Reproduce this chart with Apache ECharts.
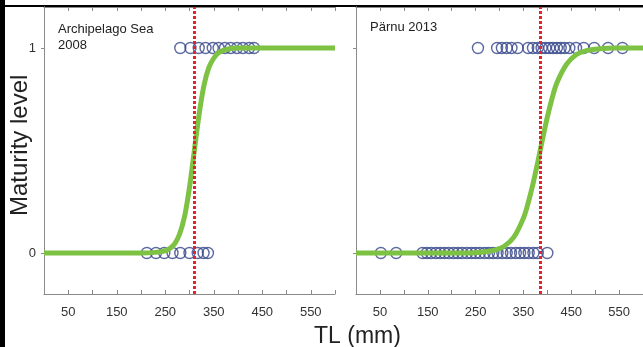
<!DOCTYPE html>
<html>
<head>
<meta charset="utf-8">
<script src="https://cdn.jsdelivr.net/npm/echarts@6/dist/echarts.min.js"></script>
<style>
  html, body { margin: 0; padding: 0; background: #fff; }
  #chart { width: 643px; height: 347px; }
</style>
</head>
<body>
<div id="chart"></div>
<script>
// x tick labels (TL, mm)
const tlLabels = [50, 150, 250, 350, 450, 550];
const tlTicks = [0, 50, 100, 150, 200, 250, 300, 350, 400, 450, 500, 550, 600];
const maturityLabels = [0, 1];

// Archipelago Sea 2008
const archMature = [281, 302, 319, 333, 348, 360, 373, 385, 398, 410, 423, 433];
const archImmature = [212, 231, 248, 265, 281, 300, 317, 329, 338];
const archCurveX = [0, 200, 230, 250, 260, 270, 280, 290, 300, 310, 320, 330, 340, 350, 360, 380, 400, 600];
const archCurveY = [0, 0, 0.003, 0.011, 0.023, 0.047, 0.095, 0.18, 0.32, 0.5, 0.68, 0.82, 0.905, 0.95, 0.977, 0.995, 1, 1];
const archL50 = 310;

// Pärnu 2013
const parnuMature = [255, 295, 305, 315, 325, 338, 360, 370, 380, 388, 396, 404, 412, 420, 428, 436, 446, 460, 476, 498, 527, 557];
const parnuImmature = [52, 84, 139, 148, 157, 167, 176, 185, 194, 204, 213, 222, 232, 241, 250, 259, 269, 278, 287, 296, 306, 315, 324, 334, 343, 352, 361, 371, 380, 400];
const parnuCurveX = [0, 240, 270, 290, 310, 330, 350, 360, 370, 380, 390, 400, 410, 420, 440, 460, 480, 510, 540, 600];
const parnuCurveY = [0, 0, 0.006, 0.014, 0.033, 0.077, 0.17, 0.245, 0.337, 0.444, 0.556, 0.663, 0.755, 0.83, 0.92, 0.967, 0.986, 0.996, 1, 1];
const parnuL50 = 385;

const green = '#7dc242';
const blue = '#34458a';
const red = '#e0262c';
const axisGray = '#8a8a8a';

const chart = echarts.init(document.getElementById('chart'));

function pts(xs, y) { return xs.map(v => [v, y]); }
function curve(xs, ys) { return xs.map((v, i) => [v, ys[i]]); }

function xAxisFor(idx, top) {
  return {
    type: 'value', gridIndex: idx, min: 0, max: 600, interval: 50,
    position: top ? 'top' : 'bottom',
    axisLine: { show: true, onZero: false, lineStyle: { color: axisGray, width: 1 } },
    axisTick: { show: true, inside: true, length: 4, customValues: tlTicks, lineStyle: { color: axisGray } },
    axisLabel: { show: !top, customValues: tlLabels, color: '#333', fontSize: 13, margin: 12, fontFamily: 'Liberation Sans' },
    splitLine: { show: false }
  };
}
function yAxisFor(idx, right) {
  return {
    type: 'value', gridIndex: idx, min: -0.2, max: 1.2,
    position: right ? 'right' : 'left',
    axisLine: { show: true, lineStyle: { color: axisGray, width: 1 } },
    axisTick: { show: !right, inside: false, length: 3, customValues: maturityLabels, lineStyle: { color: axisGray } },
    axisLabel: { show: idx === 0 && !right, customValues: maturityLabels, color: '#333', fontSize: 13, margin: 8, fontFamily: 'Liberation Sans' },
    splitLine: { show: false }
  };
}

function panelSeries(idx, mature, immature, cx, cy, l50) {
  const scatterStyle = {
    type: 'scatter', xAxisIndex: idx * 2, yAxisIndex: idx * 2,
    symbol: 'circle', symbolSize: 11,
    itemStyle: { color: 'rgba(255,255,255,0)', borderColor: blue, borderWidth: 1.4 },
    z: 2, silent: true
  };
  return [
    Object.assign({}, scatterStyle, { data: pts(mature, 1) }),
    Object.assign({}, scatterStyle, { data: pts(immature, 0) }),
    {
      type: 'line', xAxisIndex: idx * 2, yAxisIndex: idx * 2,
      data: curve(cx, cy), smooth: 0.3,
      showSymbol: false, lineStyle: { color: green, width: 5 }, z: 3, silent: true
    },
    {
      type: 'line', xAxisIndex: idx * 2, yAxisIndex: idx * 2, data: [], z: 4,
      markLine: {
        silent: true, symbol: 'none', label: { show: false },
        lineStyle: { color: red, width: 3, type: [3, 2] },
        data: [{ xAxis: l50 }]
      }
    }
  ];
}

const option = {
  animation: false,
  backgroundColor: '#fff',
  textStyle: { fontFamily: 'Liberation Sans' },
  grid: [
    { left: 44, top: 7, width: 291, height: 287 },
    { left: 356, top: 7, width: 294, height: 287 }
  ],
  xAxis: [xAxisFor(0, false), xAxisFor(0, true), xAxisFor(1, false), xAxisFor(1, true)],
  yAxis: [yAxisFor(0, false), yAxisFor(0, true), yAxisFor(1, false), yAxisFor(1, true)],
  title: [
    { text: 'Archipelago Sea\n2008', left: 53, top: 16,
      textStyle: { fontSize: 13, fontWeight: 'normal', color: '#222', lineHeight: 16, fontFamily: 'Liberation Sans' } },
    { text: 'Pärnu 2013', left: 365, top: 16,
      textStyle: { fontSize: 13, fontWeight: 'normal', color: '#222', fontFamily: 'Liberation Sans' } },
    { text: 'TL (mm)', left: 309, top: 320,
      textStyle: { fontSize: 23, fontWeight: 'normal', color: '#222', fontFamily: 'Liberation Sans' } }
  ],
  graphic: [
    { type: 'rect', shape: { x: 0, y: 0, width: 5, height: 347 }, style: { fill: '#000' } },
    { type: 'rect', shape: { x: 0, y: 5, width: 643, height: 2 }, style: { fill: '#000' } },
    { type: 'text', x: 8, y: 216, rotation: Math.PI / 2,
      style: { text: 'Maturity level', fontSize: 24, fill: '#222', fontFamily: 'Liberation Sans' } }
  ],
  series: [].concat(
    panelSeries(0, archMature, archImmature, archCurveX, archCurveY, archL50),
    panelSeries(1, parnuMature, parnuImmature, parnuCurveX, parnuCurveY, parnuL50)
  )
};

chart.setOption(option);
</script>
</body>
</html>
